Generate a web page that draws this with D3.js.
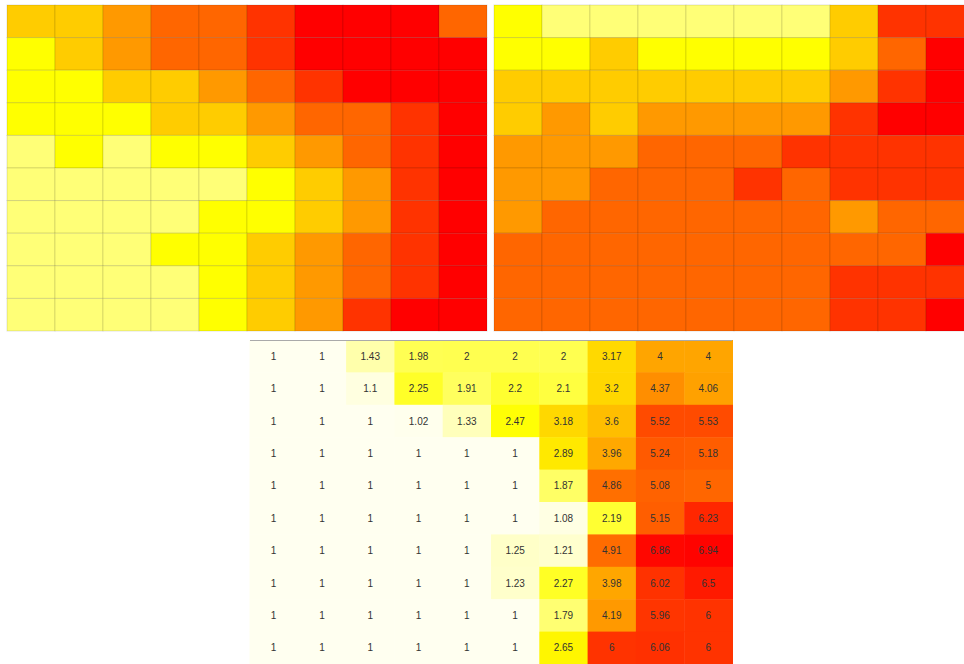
<!DOCTYPE html>
<html>
<head>
<meta charset="utf-8">
<script src="https://cdn.jsdelivr.net/npm/d3@7"></script>
<style>
  html, body { margin: 0; padding: 0; background: #fff; overflow: hidden; }
  svg { display: block; }
</style>
</head>
<body>
<svg id="chart" width="964" height="664"></svg>
<script>
// ---- data ----
const rowsIdx = [0,1,2,3,4,5,6,7,8,9];
const colsIdx = [0,1,2,3,4,5,6,7,8,9];

// discrete level palette for the two upper maps (level 0..6)
const levelColors = ["#ffff77", "#ffff00", "#ffcc00", "#ff9900", "#ff6600", "#ff3300", "#ff0000"];

const leftLevels = [
  [2,2,3,4,4,5,6,6,6,4],
  [1,2,3,4,4,5,6,6,6,6],
  [1,1,2,2,3,4,5,6,6,6],
  [1,1,1,2,2,3,4,4,5,6],
  [0,1,0,1,1,2,3,4,5,6],
  [0,0,0,0,0,1,2,3,5,6],
  [0,0,0,0,1,1,2,3,5,6],
  [0,0,0,1,1,2,3,4,5,6],
  [0,0,0,0,1,2,3,4,5,6],
  [0,0,0,0,1,2,3,5,6,6]
];

const rightLevels = [
  [1,0,0,0,0,0,0,2,5,5],
  [1,1,2,1,1,1,1,2,4,6],
  [2,2,2,2,2,2,2,3,5,6],
  [2,3,2,3,3,3,3,5,6,6],
  [3,3,3,4,4,4,5,5,5,5],
  [3,3,4,4,4,5,4,5,5,5],
  [3,4,4,4,4,4,4,3,4,4],
  [4,4,4,4,4,4,4,4,4,6],
  [4,4,4,4,4,4,4,5,5,5],
  [4,4,4,4,4,4,4,5,5,6]
];

const bottomValues = [
  [1,1,1.43,1.98,2,2,2,3.17,4,4],
  [1,1,1.1,2.25,1.91,2.2,2.1,3.2,4.37,4.06],
  [1,1,1,1.02,1.33,2.47,3.18,3.6,5.52,5.53],
  [1,1,1,1,1,1,2.89,3.96,5.24,5.18],
  [1,1,1,1,1,1,1.87,4.86,5.08,5],
  [1,1,1,1,1,1,1.08,2.19,5.15,6.23],
  [1,1,1,1,1,1.25,1.21,4.91,6.86,6.94],
  [1,1,1,1,1,1.23,2.27,3.98,6.02,6.5],
  [1,1,1,1,1,1,1.79,4.19,5.96,6],
  [1,1,1,1,1,1,2.65,6,6.06,6]
];

const bottomStops = [1, 2.5, 3.2, 4, 5, 6, 7];
const bottomStopColors = ["#fffff0", "#ffff00", "#ffd700", "#ffa500", "#ff6600", "#ff3300", "#ff0000"];

// ---- drawing ----
const svg = d3.select("#chart");

function flatten(matrix) {
  const out = [];
  matrix.forEach((row, r) => row.forEach((v, c) => out.push({r, c, v})));
  return out;
}

const levelScale = d3.scaleOrdinal().domain(d3.range(levelColors.length)).range(levelColors);

function drawLevelMap(data, x0, x1, y0, y1) {
  const x = d3.scaleBand().domain(colsIdx).range([x0, x1]);
  const y = d3.scaleBand().domain(rowsIdx).range([y0, y1]);
  const g = svg.append("g");
  g.selectAll("rect")
    .data(flatten(data))
    .join("rect")
    .attr("x", d => x(d.c))
    .attr("y", d => y(d.r))
    .attr("width", x.bandwidth())
    .attr("height", y.bandwidth())
    .attr("fill", d => levelScale(d.v))
    .attr("stroke", "rgba(0,0,0,0.12)")
    .attr("stroke-width", 1);
}

drawLevelMap(leftLevels, 7, 487, 5, 331);
drawLevelMap(rightLevels, 494, 974, 5, 331);

// bottom continuous map
const colorB = d3.scaleLinear().domain(bottomStops).range(bottomStopColors).interpolate(d3.interpolateRgb).clamp(true);
const xb = d3.scaleBand().domain(colsIdx).range([249.5, 732.5]);
const yb = d3.scaleBand().domain(rowsIdx).range([340, 664]);
const gb = svg.append("g");
const cells = flatten(bottomValues);
gb.selectAll("rect")
  .data(cells)
  .join("rect")
  .attr("x", d => xb(d.c))
  .attr("y", d => yb(d.r))
  .attr("width", xb.bandwidth() + 0.5)
  .attr("height", yb.bandwidth() + 0.5)
  .attr("fill", d => colorB(d.v));

gb.selectAll("text")
  .data(cells)
  .join("text")
  .attr("x", d => xb(d.c) + xb.bandwidth() / 2)
  .attr("y", d => yb(d.r) + yb.bandwidth() / 2)
  .attr("text-anchor", "middle")
  .attr("dominant-baseline", "central")
  .attr("font-family", "'Liberation Sans', Arial, sans-serif")
  .attr("font-size", 10)
  .attr("fill", "#333")
  .text(d => d3.format("~")(+d.v.toFixed(2)));

gb.append("line")
  .attr("x1", 250).attr("x2", 732)
  .attr("y1", 340.5).attr("y2", 340.5)
  .attr("stroke", "#aaa")
  .attr("stroke-width", 1);
</script>
</body>
</html>
